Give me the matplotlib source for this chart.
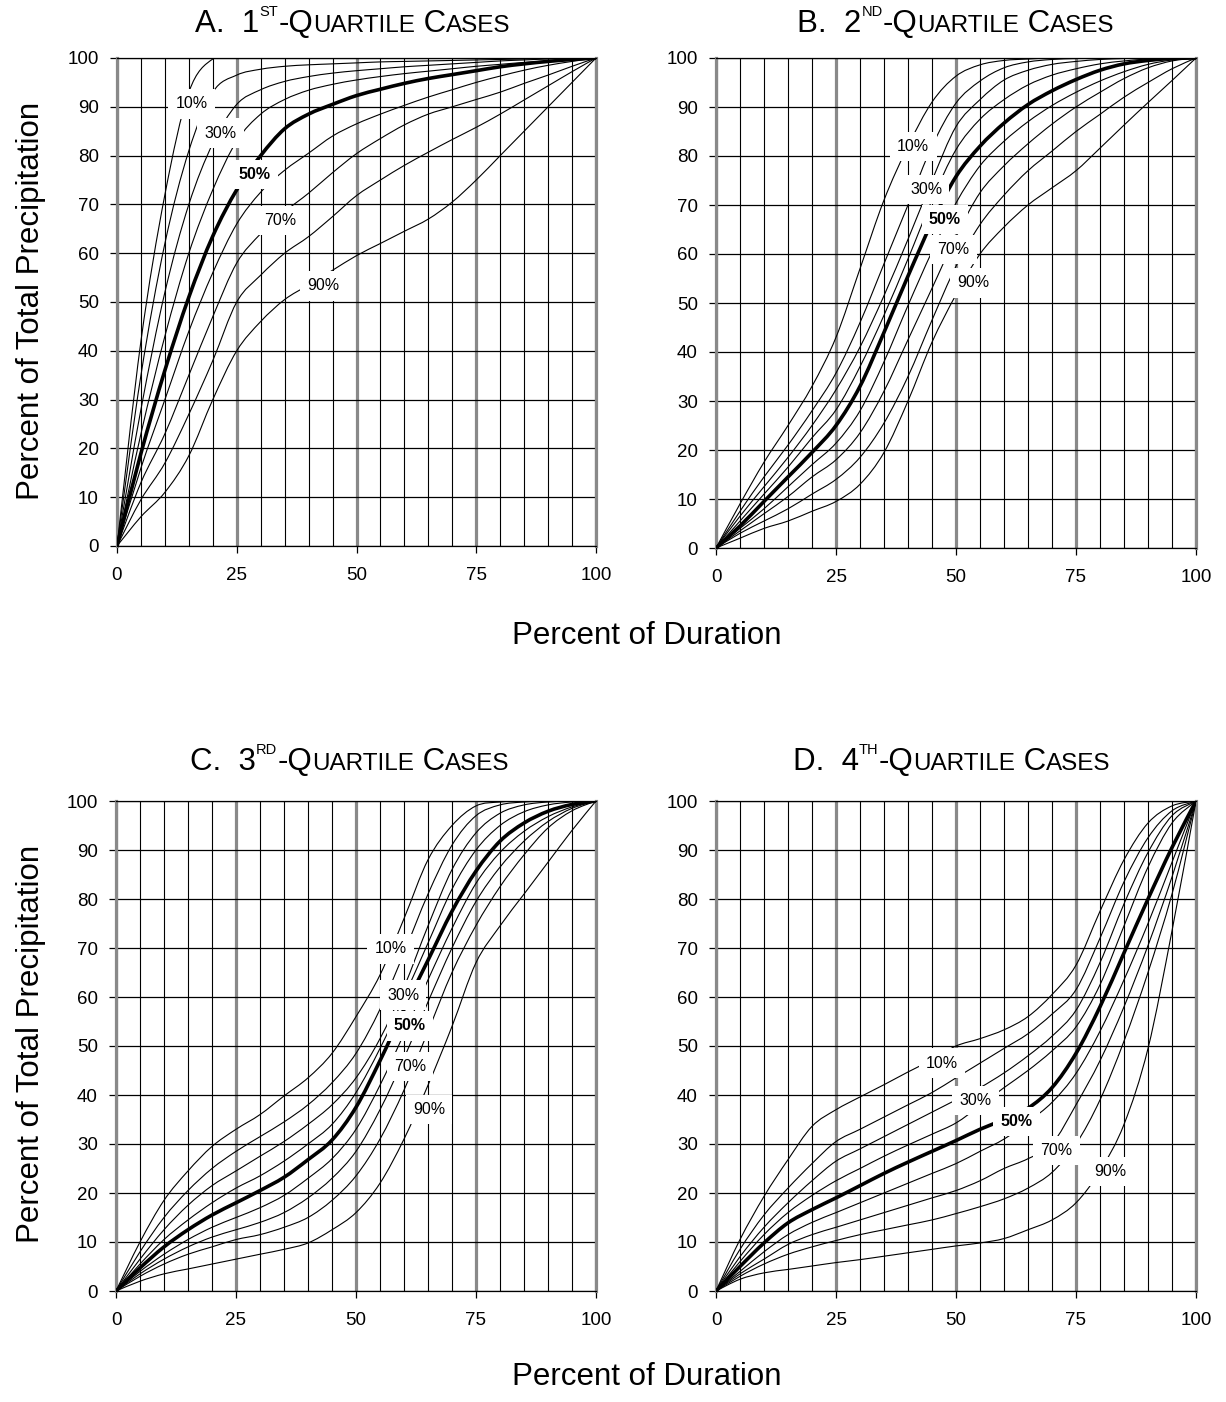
import matplotlib
matplotlib.use('Agg')
import matplotlib.pyplot as plt
from matplotlib.path import Path
from matplotlib.patches import PathPatch
from matplotlib.ticker import MultipleLocator

plt.rcParams['font.family'] = ['Liberation Sans', 'DejaVu Sans']

# percent of storm duration, common to every curve
DURATION = [0, 5, 10, 15, 20, 25, 30, 35, 40, 45, 50,
            55, 60, 65, 70, 75, 80, 85, 90, 95, 100]
PROBS = ['10%', '20%', '30%', '40%', '50%', '60%', '70%', '80%', '90%']
LABELLED = ['10%', '30%', '50%', '70%', '90%']

# A. 1st-quartile storms, cumulative percent of total precipitation
A_10 = [0, 42, 72, 93, 99.8, 100, 100, 100, 100, 100, 100, 100, 100, 100, 100, 100, 100, 100, 100, 100, 100]
A_20 = [0, 35, 62, 81, 93, 96.5, 97.7, 98.3, 98.6, 98.8, 99.0, 99.2, 99.3, 99.4, 99.5, 99.6, 99.7, 99.8, 99.9, 100, 100]
A_30 = [0, 28, 52, 70, 82.5, 90.5, 93.5, 95.2, 96.2, 96.9, 97.4, 97.8, 98.2, 98.5, 98.8, 99.1, 99.4, 99.6, 99.8, 99.9, 100]
A_40 = [0, 23, 43, 60, 73, 83, 88.5, 91.5, 93.4, 94.6, 95.5, 96.2, 96.8, 97.3, 97.8, 98.3, 98.7, 99.1, 99.4, 99.7, 100]
A_50 = [0, 19, 36, 51, 63.5, 73, 80, 85.5, 88.5, 90.5, 92.3, 93.6, 94.8, 95.8, 96.6, 97.4, 98.2, 98.8, 99.3, 99.7, 100]
A_60 = [0, 16, 30, 44, 56, 66, 72.5, 77, 80.5, 84, 86.5, 88.5, 90.3, 92, 93.5, 95, 96.3, 97.5, 98.5, 99.3, 100]
A_70 = [0, 13, 23, 35, 47, 58, 64, 68.5, 72.3, 76.5, 80.4, 83.5, 86.3, 88.5, 90, 91.5, 93, 94.8, 96.5, 98.3, 100]
A_80 = [0, 9.5, 17, 27, 38, 50, 55.5, 60, 63.4, 67.5, 71.8, 75, 78, 80.7, 83.3, 85.8, 88.5, 91.4, 94.3, 97.2, 100]
A_90 = [0, 6, 11, 18.5, 30, 40, 46, 50.5, 53.5, 56.5, 59.5, 62, 64.5, 67, 70.5, 75, 80, 85, 90, 95, 100]

# B. 2nd-quartile storms
B_10 = [0, 9, 17.5, 25, 33, 43, 57, 71, 82, 91, 96.3, 98.6, 99.5, 99.8, 100, 100, 100, 100, 100, 100, 100]
B_20 = [0, 7.5, 14.5, 21, 28, 35.7, 46, 58, 70, 82, 90.8, 95.3, 98, 99.2, 99.7, 99.9, 100, 100, 100, 100, 100]
B_30 = [0, 6.5, 12.5, 18.5, 25, 32.3, 41, 51.5, 63, 75, 86, 91.5, 95.5, 97.5, 98.7, 99.3, 99.7, 99.9, 100, 100, 100]
B_40 = [0, 5.5, 11, 16.5, 22.5, 28.2, 37, 47.5, 59, 71, 81.3, 87.5, 91.5, 94.5, 96.5, 97.8, 98.8, 99.4, 99.8, 100, 100]
B_50 = [0, 4.5, 9.5, 14.5, 19.5, 25, 33, 44, 55.5, 66.5, 75.8, 82, 86.7, 90.5, 93.3, 95.6, 97.5, 98.8, 99.5, 99.9, 100]
B_60 = [0, 4, 8, 12.5, 17, 21.4, 28, 38, 49.5, 60.5, 70.4, 78, 83, 87, 90.3, 93, 95.3, 97.2, 98.7, 99.6, 100]
B_70 = [0, 3.5, 7, 10.5, 14.5, 18, 23.5, 32, 42.5, 53, 63.6, 72.5, 78, 82.5, 86.5, 90, 93, 95.8, 98, 99.4, 100]
B_80 = [0, 3, 5.5, 8, 11, 14, 18.5, 25.5, 35, 46.5, 57.5, 66, 72, 77, 81, 85, 88.5, 92, 95, 97.8, 100]
B_90 = [0, 2, 4, 5.5, 7.5, 9.5, 13, 19.5, 30, 42, 51.7, 60, 65.5, 70, 73.5, 77, 81.6, 86.3, 90.9, 95.4, 100]

# C. 3rd-quartile storms
C_10 = [0, 10, 18.5, 24.5, 29.5, 33, 36, 39.8, 43.5, 48.5, 56, 64.5, 76, 88, 95, 99, 99.8, 100, 100, 100, 100]
C_20 = [0, 8, 15, 20.5, 25, 28.5, 31.5, 34.5, 38, 42.5, 48.5, 57.5, 69, 81, 91, 97, 99.2, 99.8, 100, 100, 100]
C_30 = [0, 6.5, 12.5, 17.5, 21.5, 24.5, 27.5, 30.5, 34, 38, 43.5, 51.5, 62, 74.5, 86, 93.5, 97.5, 99.2, 99.8, 100, 100]
C_40 = [0, 5.5, 10.5, 14.5, 18, 21, 23.5, 26.5, 30, 34, 40.5, 49.5, 60, 71, 82, 90, 95, 97.8, 99.2, 99.8, 100]
C_50 = [0, 4.7, 9, 12.5, 15.5, 18, 20.5, 23.2, 26.8, 30.8, 37.5, 47, 57.5, 67.5, 77.5, 85.7, 91.8, 95.5, 97.9, 99.3, 100]
C_60 = [0, 4, 7.5, 10.5, 13, 15, 17, 19.5, 23, 27, 33, 42, 52.5, 63.5, 74, 83.2, 89.5, 93.8, 96.8, 98.8, 100]
C_70 = [0, 3.5, 6.5, 9, 11, 12.5, 14, 16, 19, 23, 28.5, 37, 47.5, 59, 70, 79.5, 86.5, 91.8, 95.8, 98.5, 100]
C_80 = [0, 3, 5.5, 7.5, 9, 10.5, 11.5, 13, 15, 18.5, 23.5, 31, 41, 53, 65, 74.6, 82.5, 89, 94.5, 98, 100]
C_90 = [0, 2, 3.5, 4.5, 5.5, 6.5, 7.5, 8.5, 9.8, 12.5, 16, 22, 31, 42, 54, 67, 74.5, 81, 87.5, 94, 100]

# D. 4th-quartile storms
D_10 = [0, 10.5, 19.3, 26.8, 33.6, 37, 39.6, 42.1, 44.7, 47.2, 50, 51.5, 53.3, 56, 60.5, 66.5, 77.5, 88, 95.5, 99, 100]
D_20 = [0, 8.5, 15.5, 21, 26, 30.5, 33, 35.5, 38, 40.5, 43.5, 46.5, 49.5, 52.5, 56.5, 61.5, 72, 83.5, 92.5, 98, 100]
D_30 = [0, 7, 13, 18, 22.5, 26.5, 29, 31.5, 34, 36.5, 39, 41.5, 44.5, 48, 52, 57.3, 67, 79, 89.5, 97, 100]
D_40 = [0, 6, 11.5, 16, 19.5, 22.5, 25, 27.5, 29.8, 32, 34.3, 37.8, 41.5, 45, 49, 53.9, 62.5, 74.5, 86.5, 95.5, 100]
D_50 = [0, 5, 9.8, 13.9, 16.6, 19, 21.5, 24, 26.3, 28.5, 30.7, 33, 35, 37.3, 41.5, 48.5, 58, 69, 80, 90.5, 100]
D_60 = [0, 4, 8, 11.5, 14, 16, 18, 20, 22, 24, 26, 28.5, 31, 34.5, 38.5, 44.4, 53, 63.5, 75, 87.5, 100]
D_70 = [0, 3.5, 6.5, 9.5, 11.5, 13, 14.5, 16, 17.5, 19, 20.5, 22.5, 25, 27, 30, 38, 47, 58, 70.5, 84.5, 100]
D_80 = [0, 3, 5.5, 7.5, 9, 10.3, 11.5, 12.5, 13.5, 14.5, 15.8, 17.2, 18.8, 21, 24.2, 30, 39, 51, 65, 81, 100]
D_90 = [0, 2.4, 3.7, 4.4, 5.1, 5.8, 6.4, 7.1, 7.8, 8.5, 9.2, 9.8, 10.7, 12.5, 14.5, 18, 24.5, 34, 49.5, 73.5, 100]

# where the probability labels sit (duration, precipitation)
LABELS_A = [(15.6, 90.6), (21.6, 84.6), (28.7, 76.1), (34.1, 66.7), (43.0, 53.3)]
LABELS_B = [(41.1, 82.0), (43.8, 73.1), (47.7, 67.0), (49.5, 60.9), (53.6, 54.1)]
LABELS_C = [(57.2, 69.8), (59.8, 60.4), (61.2, 54.1), (61.2, 45.8), (65.2, 37.0)]
LABELS_D = [(47.1, 46.5), (54.1, 38.9), (62.6, 34.6), (70.9, 28.7), (82.1, 24.4)]

GRAY = '#898989'
W_PX, H_PX = 1226, 1402


def smooth_path(xs, ys):
    # Excel-style smoothed line: cubic Bezier through every data point
    pts = list(zip(xs, ys))
    n = len(pts)
    verts, codes = [pts[0]], [Path.MOVETO]
    for i in range(n - 1):
        p0 = pts[max(i - 1, 0)]
        p1, p2 = pts[i], pts[i + 1]
        p3 = pts[min(i + 2, n - 1)]
        c1 = (p1[0] + (p2[0] - p0[0]) / 6, p1[1] + (p2[1] - p0[1]) / 6)
        c2 = (p2[0] - (p3[0] - p1[0]) / 6, p2[1] - (p3[1] - p1[1]) / 6)
        verts += [c1, c2, p2]
        codes += [Path.CURVE4] * 3
    return Path(verts, codes)


def draw_panel(fig, rect_px, curves, label_pos):
    left, top, right, bottom = rect_px
    ax = fig.add_axes([left / W_PX, 1 - bottom / H_PX,
                       (right - left) / W_PX, (bottom - top) / H_PX])

    for prob, vals in zip(PROBS, curves):
        thick = prob == '50%'
        ax.add_patch(PathPatch(smooth_path(DURATION, vals), fc='none',
                               ec='black', lw=2.6 if thick else 0.8,
                               joinstyle='round', zorder=3))

    for (x, y), text in zip(label_pos, LABELLED):
        ax.text(x, y, text, ha='center', va='center', fontsize=11.5,
                fontweight='bold' if text == '50%' else 'normal', zorder=5,
                bbox=dict(boxstyle='square,pad=0.45', fc='white', ec='none'))

    ax.set_xlim(0, 100)
    ax.set_ylim(0, 100)
    ax.set_xticks([0, 25, 50, 75, 100])
    ax.xaxis.set_minor_locator(MultipleLocator(5))
    ax.set_yticks(range(0, 101, 10))
    ax.set_axisbelow(True)
    ax.grid(True, axis='x', which='major', color=GRAY, lw=2.3)
    ax.grid(True, axis='x', which='minor', color='black', lw=0.8)
    ax.grid(True, axis='y', which='major', color='black', lw=0.9)

    ax.tick_params(axis='x', which='minor', length=0)
    ax.tick_params(axis='x', which='major', direction='out', length=5,
                   width=0.9, labelsize=13.5, pad=10)
    ax.tick_params(axis='y', direction='out', length=5, width=0.9,
                   labelsize=13.5, pad=8)

    for side in ('left', 'right'):
        ax.spines[side].set_color(GRAY)
        ax.spines[side].set_linewidth(2.3)
    for side in ('top', 'bottom'):
        ax.spines[side].set_color('black')
        ax.spines[side].set_linewidth(0.9)
    return ax


def quartile_title(fig, center_px, base_px, letter, number, suffix):
    # small-caps heading: "A.  1ST-QUARTILE CASES"
    pieces = [(letter + '.  ' + number, 22.5, 0), (suffix, 10.5, 16),
              ('-Q', 22.5, 0), ('UARTILE', 17.5, 0),
              (' C', 22.5, 0), ('ASES', 17.5, 0)]
    renderer = fig.canvas.get_renderer()
    texts = []
    for s, size, rise in pieces:
        t = fig.text(0, 0, s, fontsize=size, ha='left', va='baseline')
        texts.append((t, rise, t.get_window_extent(renderer).width))
    total = sum(w for _, _, w in texts)
    x = center_px - total / 2
    for t, rise, w in texts:
        t.set_position((x / W_PX, 1 - (base_px - rise) / H_PX))
        x += w


def main():
    fig = plt.figure(figsize=(W_PX / 100, H_PX / 100), dpi=100)

    draw_panel(fig, (117, 58, 596, 546),
               [A_10, A_20, A_30, A_40, A_50, A_60, A_70, A_80, A_90], LABELS_A)
    draw_panel(fig, (716, 58, 1196, 548),
               [B_10, B_20, B_30, B_40, B_50, B_60, B_70, B_80, B_90], LABELS_B)
    draw_panel(fig, (116, 801, 596, 1291),
               [C_10, C_20, C_30, C_40, C_50, C_60, C_70, C_80, C_90], LABELS_C)
    draw_panel(fig, (716, 801, 1196, 1291),
               [D_10, D_20, D_30, D_40, D_50, D_60, D_70, D_80, D_90], LABELS_D)

    quartile_title(fig, 353, 32, 'A', '1', 'ST')
    quartile_title(fig, 956, 32, 'B', '2', 'ND')
    quartile_title(fig, 350, 770, 'C', '3', 'RD')
    quartile_title(fig, 952, 770, 'D', '4', 'TH')

    for yc in (301, 1044):
        fig.text(31 / W_PX, 1 - yc / H_PX, 'Percent of Total Precipitation',
                 rotation=90, ha='center', va='center', fontsize=22.5)
    for yc in (636, 1377):
        fig.text(647 / W_PX, 1 - yc / H_PX, 'Percent of Duration',
                 ha='center', va='center', fontsize=22.5)

    fig.savefig('out.png', dpi=100, facecolor='white')


if __name__ == '__main__':
    main()
